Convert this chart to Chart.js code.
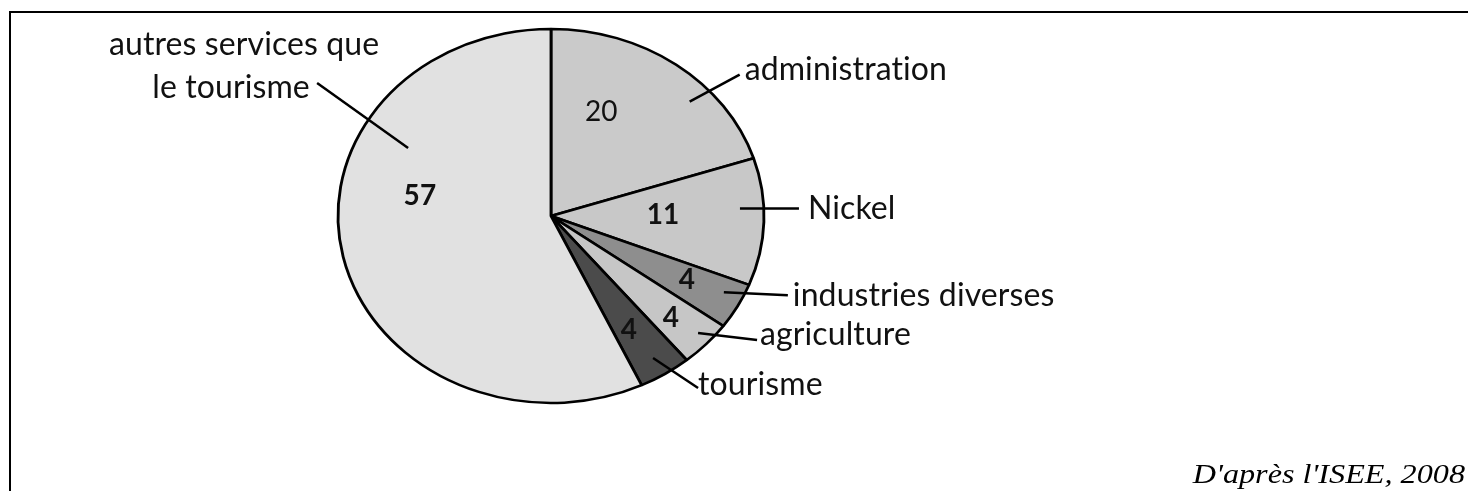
<!DOCTYPE html>
<html>
<head>
<meta charset="utf-8">
<script src="https://cdn.jsdelivr.net/npm/chart.js@4.4.1/dist/chart.umd.min.js"></script>
<style>
  html, body { margin: 0; padding: 0; background: #fff; }
  #wrap { width: 1468px; height: 491px; }
</style>
</head>
<body>
<div id="wrap"><canvas id="pie" width="1468" height="491"></canvas></div>
<script>
// data (percent of jobs)
const categories = ['administration', 'Nickel', 'industries diverses', 'agriculture', 'tourisme', ['autres services que', 'le tourisme']];
const values = [20, 11, 4, 4, 4, 57];
const valueBold = [false, true, true, true, true, true];
const sliceColors = ['#cacaca', '#c8c8c8', '#8e8e8e', '#c6c6c6', '#4b4b4b', '#e1e1e1'];
const sourceText = "D'après l'ISEE, 2008";

// the original image is a bit stretched sideways
const stretchX = 213 / 187;

// where each callout sits: t = position inside the slice, r = fraction of radius
const callouts = [
  { t: 0.65, r: 0.893, dx: 50, dy: -27, lines: [[5, -5, 'left']] },
  { t: 0.39, r: 0.888, dx: 59, dy: 0, lines: [[9, 0, 'left']] },
  { t: 0.35, r: 0.908, dx: 64, dy: 3, lines: [[5, 1, 'left']] },
  { t: 0.43, r: 0.932, dx: 59, dy: 7, lines: [[3, -5, 'left']] },
  { t: 0.51, r: 0.898, dx: 45, dy: 30, lines: [[0, -3, 'left']] },
  { t: 0.70, r: 0.763, dx: -91, dy: -65, lines: [[-73, -38, 'center'], [-86, 5, 'center']] }
];
const valuePos = [
  { t: 0.32, r: 0.604 },
  { t: 0.44, r: 0.526 },
  { t: 0.46, r: 0.724 },
  { t: 0.56, r: 0.784 },
  { t: 0.60, r: 0.711 },
  { t: 0.61, r: 0.625 }
];

function polar(arc, t, r) {
  const a = arc.startAngle + t * (arc.endAngle - arc.startAngle);
  return {
    x: arc.x + Math.cos(a) * arc.outerRadius * r * stretchX,
    y: arc.y + Math.sin(a) * arc.outerRadius * r
  };
}

const stretchPlugin = {
  id: 'stretch',
  beforeDatasetsDraw(chart) {
    const arc = chart.getDatasetMeta(0).data[0];
    const ctx = chart.ctx;
    ctx.save();
    ctx.translate(arc.x, arc.y);
    ctx.scale(stretchX, 1);
    ctx.translate(-arc.x, -arc.y);
  },
  afterDatasetsDraw(chart) {
    chart.ctx.restore();
  }
};

const labelPlugin = {
  id: 'labels',
  afterDraw(chart) {
    const ctx = chart.ctx;
    const arcs = chart.getDatasetMeta(0).data;
    ctx.save();
    ctx.fillStyle = '#111';
    ctx.strokeStyle = '#000';
    ctx.lineWidth = 2.5;
    ctx.textBaseline = 'middle';
    ctx.letterSpacing = '0.1px'; // no "ti" ligature

    arcs.forEach((arc, i) => {
      // value inside the slice
      const vp = polar(arc, valuePos[i].t, valuePos[i].r);
      ctx.font = (valueBold[i] ? 'bold ' : '') + '28px Lato';
      ctx.textAlign = 'center';
      ctx.fillText(String(values[i]), vp.x, vp.y);

      // leader line + category name
      const c = callouts[i];
      const p = polar(arc, c.t, c.r);
      const e = { x: p.x + c.dx, y: p.y + c.dy };
      ctx.beginPath();
      ctx.moveTo(p.x, p.y);
      ctx.lineTo(e.x, e.y);
      ctx.stroke();
      const names = Array.isArray(categories[i]) ? categories[i] : [categories[i]];
      ctx.font = '32px Lato';
      names.forEach((txt, k) => {
        const [ox, oy, align] = c.lines[k];
        ctx.textAlign = align;
        ctx.fillText(txt, e.x + ox, e.y + oy);
      });
    });

    // source, stretched like the rest of the picture
    ctx.letterSpacing = '0px';
    ctx.font = 'italic 28px "Liberation Serif"';
    ctx.textAlign = 'right';
    ctx.textBaseline = 'alphabetic';
    ctx.fillStyle = '#000';
    ctx.save();
    ctx.translate(1465, 483);
    ctx.scale(1.15, 1);
    ctx.fillText(sourceText, 0, 0);
    ctx.restore();

    // frame
    ctx.lineWidth = 2;
    ctx.beginPath();
    ctx.moveTo(10, 491);
    ctx.lineTo(10, 12);
    ctx.lineTo(1468, 12);
    ctx.stroke();
    ctx.restore();
  }
};

new Chart(document.getElementById('pie'), {
  type: 'pie',
  data: {
    labels: categories,
    datasets: [{
      data: values,
      backgroundColor: sliceColors,
      borderColor: '#000',
      borderWidth: 2.5,
      radius: 187,
      clip: false
    }]
  },
  options: {
    responsive: false,
    animation: false,
    layout: { padding: { left: 300, right: 666, top: 20, bottom: 79 } },
    plugins: {
      legend: { display: false },
      tooltip: { enabled: false }
    }
  },
  plugins: [stretchPlugin, labelPlugin]
});
</script>
</body>
</html>
